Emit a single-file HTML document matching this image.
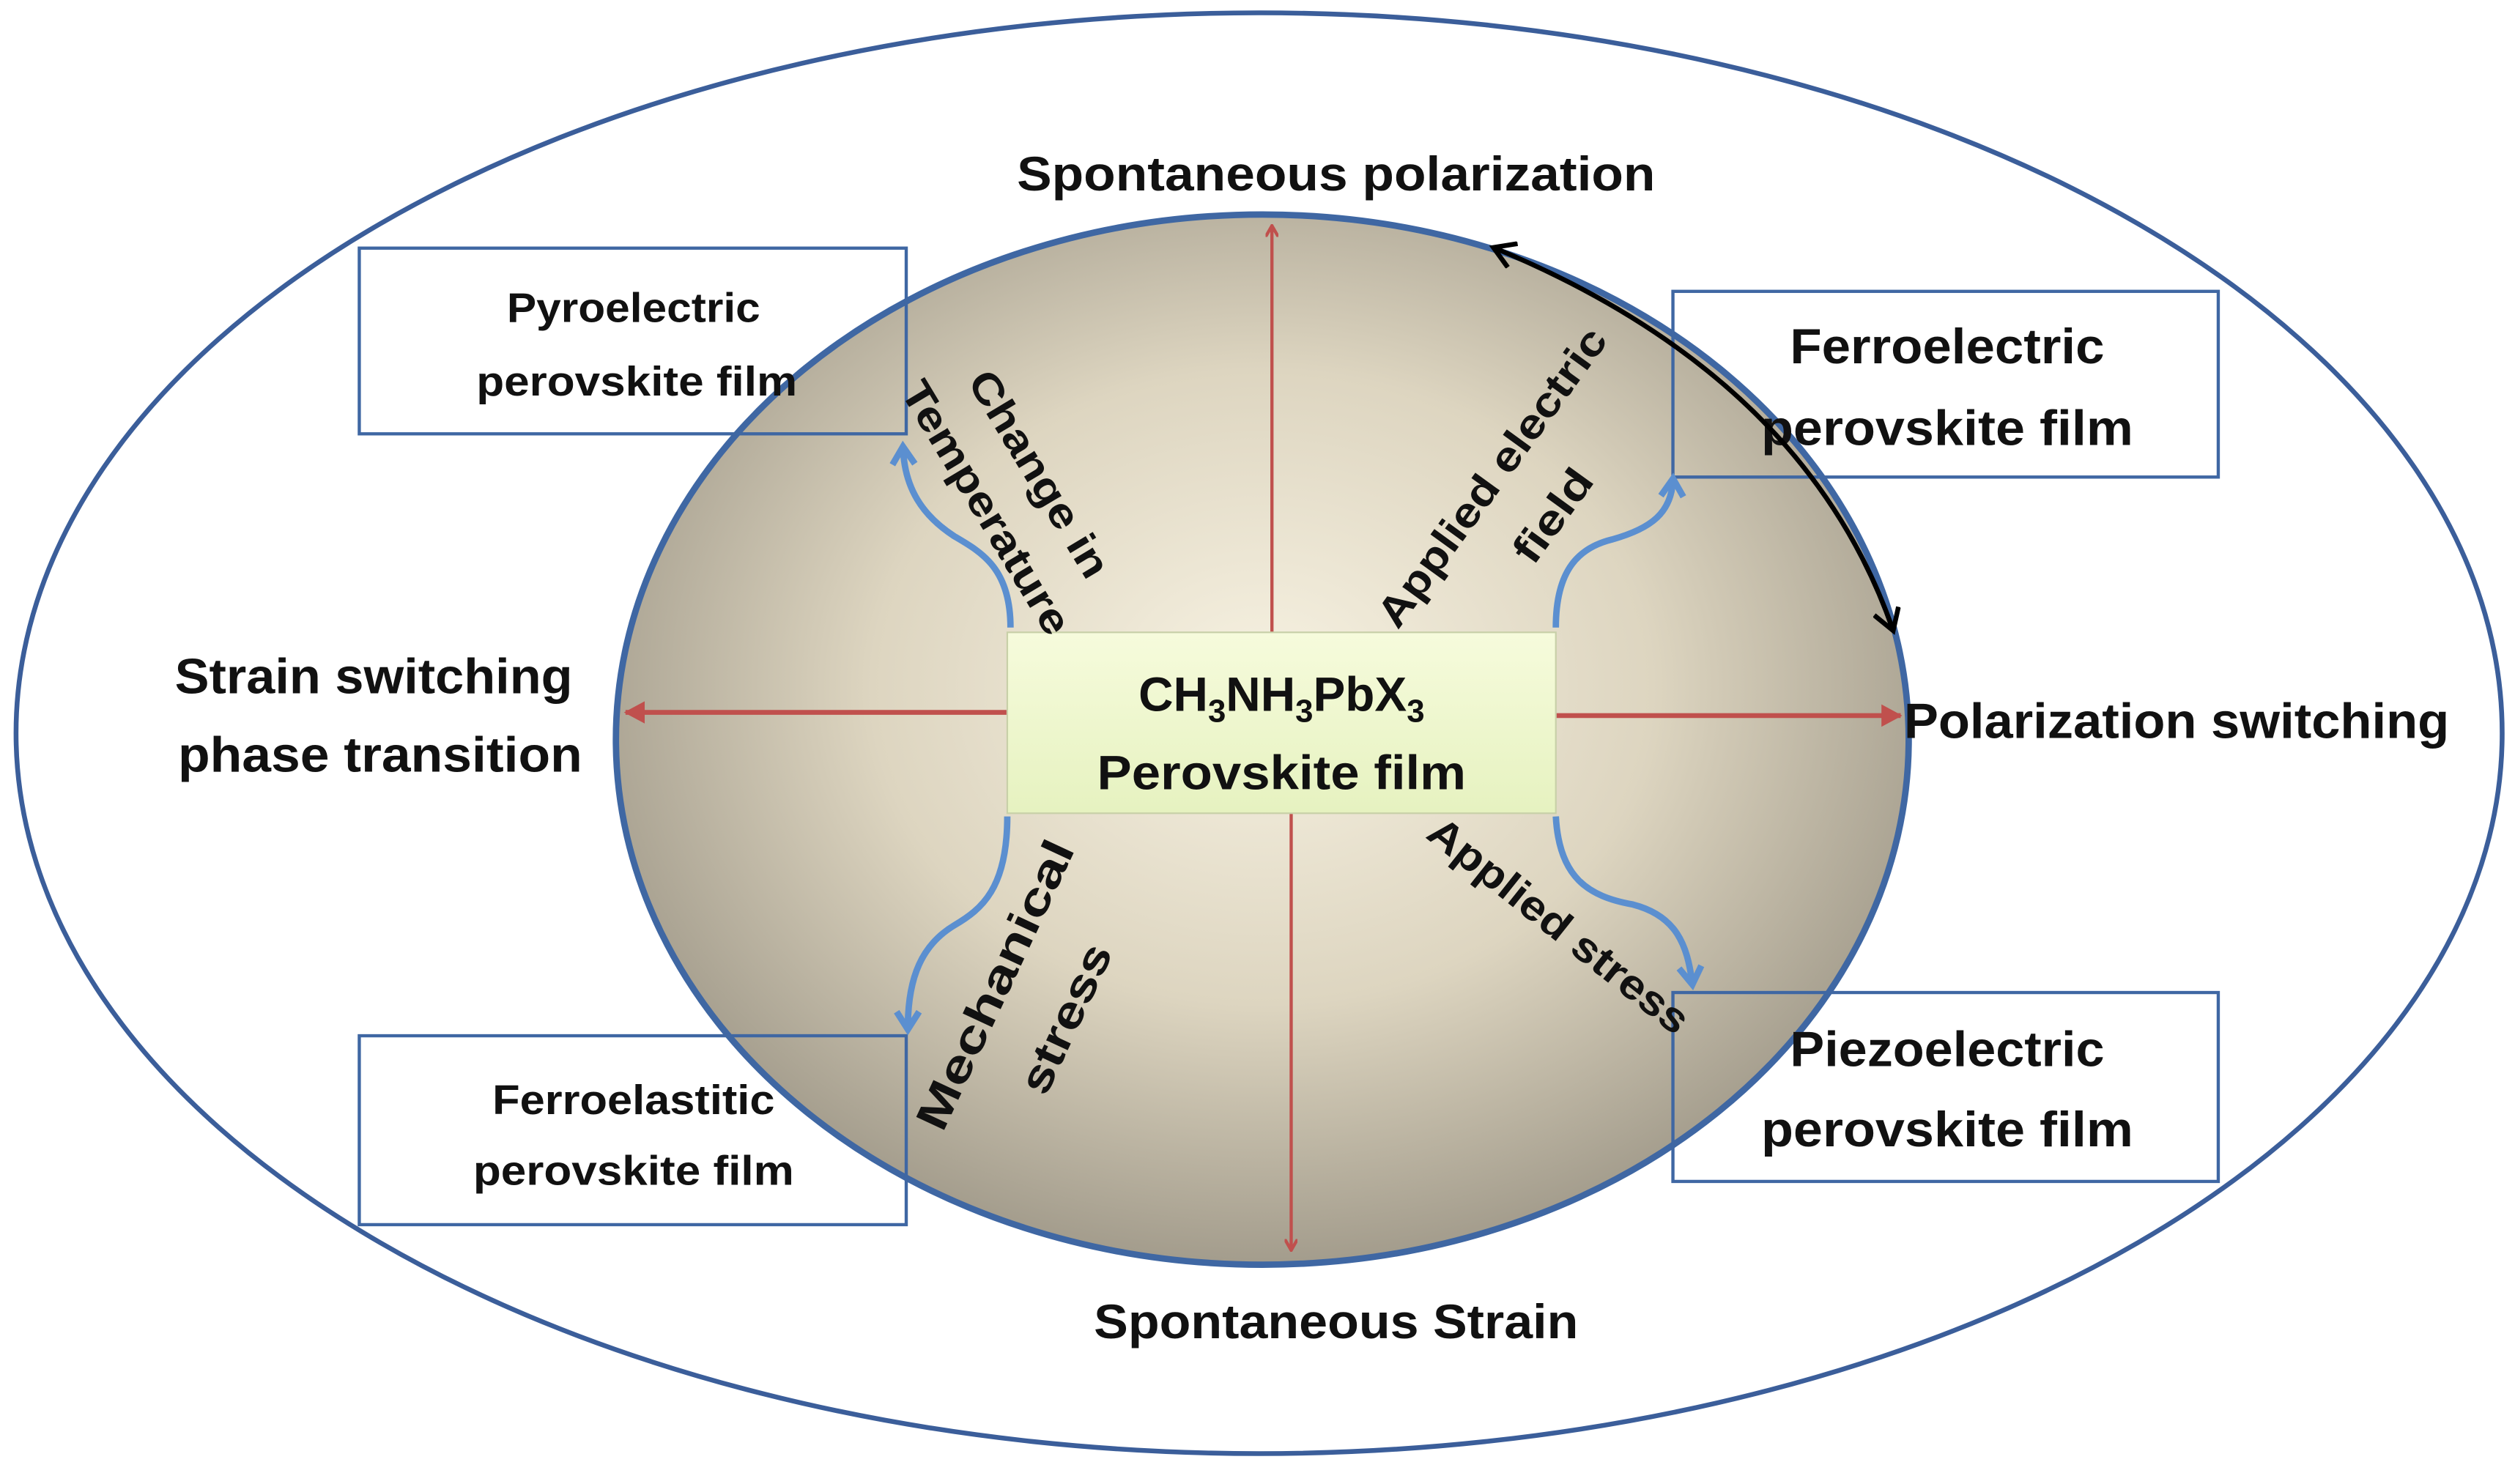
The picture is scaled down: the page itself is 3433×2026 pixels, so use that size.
<!DOCTYPE html>
<html><head><meta charset="utf-8"><style>
html,body{margin:0;padding:0;background:#fff;}
svg{display:block;}
text{font-family:"Liberation Sans",sans-serif;fill:#111;}
</style></head><body>
<svg width="3433" height="2026" viewBox="0 0 1568 927" preserveAspectRatio="none" xmlns="http://www.w3.org/2000/svg">
<defs>
<radialGradient id="g" cx="0.5" cy="0.45" r="0.55">
<stop offset="0" stop-color="#f7f2e2"/>
<stop offset="0.55" stop-color="#ddd5c0"/>
<stop offset="1" stop-color="#a39c8c"/>
</radialGradient>
<linearGradient id="bx" x1="0" y1="0" x2="0" y2="1">
<stop offset="0" stop-color="#f6fbdc"/>
<stop offset="1" stop-color="#e6f2c0"/>
</linearGradient>
<marker id="ar" markerWidth="8" markerHeight="8" refX="6" refY="4" orient="auto" markerUnits="userSpaceOnUse">
<path d="M0,0 L7,4 L0,8" fill="none" stroke="#c0504d" stroke-width="2"/>
</marker>
<marker id="arb" markerWidth="16" markerHeight="16" refX="12" refY="8" orient="auto" markerUnits="userSpaceOnUse">
<path d="M0,1 L13,8 L0,15 Z" fill="#c0504d"/>
</marker>
<marker id="ab" markerWidth="18" markerHeight="18" refX="12" refY="9" orient="auto" markerUnits="userSpaceOnUse">
<path d="M2,2 L13,9 L2,16" fill="none" stroke="#5b8fd0" stroke-width="4"/>
</marker>
<marker id="ak" markerWidth="18" markerHeight="18" refX="13" refY="9" orient="auto-start-reverse" markerUnits="userSpaceOnUse">
<path d="M1,1 L14,9 L1,17" fill="none" stroke="#000" stroke-width="3"/>
</marker>
</defs>
<ellipse cx="785" cy="458" rx="775" ry="450" fill="#fff" stroke="#3b5e9a" stroke-width="3"/>
<ellipse cx="787" cy="462" rx="403" ry="328" fill="url(#g)" stroke="#3f67a3" stroke-width="4"/>

<!-- red arrows -->
<line x1="793" y1="395" x2="793" y2="142" stroke="#c0504d" stroke-width="2" marker-end="url(#ar)"/>
<line x1="805" y1="508" x2="805" y2="780" stroke="#c0504d" stroke-width="2" marker-end="url(#ar)"/>
<line x1="628" y1="445" x2="390" y2="445" stroke="#c0504d" stroke-width="3" marker-end="url(#arb)"/>
<line x1="970" y1="447" x2="1185" y2="447" stroke="#c0504d" stroke-width="3" marker-end="url(#arb)"/>

<!-- center box -->
<rect x="628" y="395" width="342" height="113" fill="url(#bx)" stroke="#c8d0a8" stroke-width="1"/>
<text x="799" y="444" font-size="30" text-anchor="middle" font-weight="bold">CH<tspan font-size="20" dy="7">3</tspan><tspan dy="-7">NH</tspan><tspan font-size="20" dy="7">3</tspan><tspan dy="-7">PbX</tspan><tspan font-size="20" dy="7">3</tspan></text>
<text x="799" y="493" font-size="30" text-anchor="middle" font-weight="bold" textLength="230" lengthAdjust="spacingAndGlyphs">Perovskite film</text>

<!-- boxes -->
<g fill="none" stroke="#3f67a3" stroke-width="2">
<rect x="224" y="155" width="341" height="116"/>
<rect x="1043" y="182" width="340" height="116"/>
<rect x="224" y="647" width="341" height="118"/>
<rect x="1043" y="620" width="340" height="118"/>
</g>
<g font-weight="bold" text-anchor="middle">
<text x="395" y="201" font-size="26" textLength="158" lengthAdjust="spacingAndGlyphs">Pyroelectric</text>
<text x="397" y="247" font-size="26" textLength="200" lengthAdjust="spacingAndGlyphs">perovskite film</text>
<text x="1214" y="227" font-size="31" textLength="196" lengthAdjust="spacingAndGlyphs">Ferroelectric</text>
<text x="1214" y="278" font-size="31" textLength="232" lengthAdjust="spacingAndGlyphs">perovskite film</text>
<text x="395" y="696" font-size="26" textLength="176" lengthAdjust="spacingAndGlyphs">Ferroelastitic</text>
<text x="395" y="740" font-size="26" textLength="200" lengthAdjust="spacingAndGlyphs">perovskite film</text>
<text x="1214" y="666" font-size="31" textLength="196" lengthAdjust="spacingAndGlyphs">Piezoelectric</text>
<text x="1214" y="716" font-size="31" textLength="232" lengthAdjust="spacingAndGlyphs">perovskite film</text>

<text x="833" y="119" font-size="30" textLength="398" lengthAdjust="spacingAndGlyphs">Spontaneous polarization</text>
<text x="833" y="836" font-size="30" textLength="302" lengthAdjust="spacingAndGlyphs">Spontaneous Strain</text>
<text x="233" y="433" font-size="31" textLength="248" lengthAdjust="spacingAndGlyphs">Strain switching</text>
<text x="237" y="482" font-size="31" textLength="252" lengthAdjust="spacingAndGlyphs">phase transition</text>
<text x="1357" y="461" font-size="31" textLength="340" lengthAdjust="spacingAndGlyphs">Polarization switching</text>

<text transform="translate(648,296) rotate(59)" font-size="26" textLength="146" lengthAdjust="spacingAndGlyphs" dy="9">Change in</text>
<text transform="translate(615,317) rotate(59)" font-size="26" textLength="180" lengthAdjust="spacingAndGlyphs" dy="9">Temperature</text>
<text transform="translate(930,298) rotate(-54)" font-size="26" textLength="224" lengthAdjust="spacingAndGlyphs" dy="9">Applied electric</text>
<text transform="translate(968,322) rotate(-54)" font-size="26" textLength="66" lengthAdjust="spacingAndGlyphs" dy="9">field</text>
<text transform="translate(620,615) rotate(-65)" font-size="28" textLength="196" lengthAdjust="spacingAndGlyphs" dy="10">Mechanical</text>
<text transform="translate(664,636) rotate(-65)" font-size="28" textLength="100" lengthAdjust="spacingAndGlyphs" dy="10">stress</text>
<text transform="translate(972,578) rotate(38.5)" font-size="26" textLength="200" lengthAdjust="spacingAndGlyphs" dy="9">Applied stress</text>
</g>

<!-- blue curved arrows -->
<g fill="none" stroke="#5b8fd0" stroke-width="4">
<path d="M630,392 C630,355 612,345 595,335 C575,322 564,305 563,280" marker-end="url(#ab)"/>
<path d="M970,392 C970,355 985,342 1005,337 C1030,330 1042,320 1043,300" marker-end="url(#ab)"/>
<path d="M628,510 C628,555 612,568 595,578 C575,590 566,610 566,642" marker-end="url(#ab)"/>
<path d="M970,510 C972,548 990,560 1018,565 C1045,572 1052,590 1055,614" marker-end="url(#ab)"/>
</g>

<!-- black arrow -->
<path d="M932,155 Q1125,235 1180,393" fill="none" stroke="#000" stroke-width="3" marker-start="url(#ak)" marker-end="url(#ak)"/>
</svg>
</body></html>
